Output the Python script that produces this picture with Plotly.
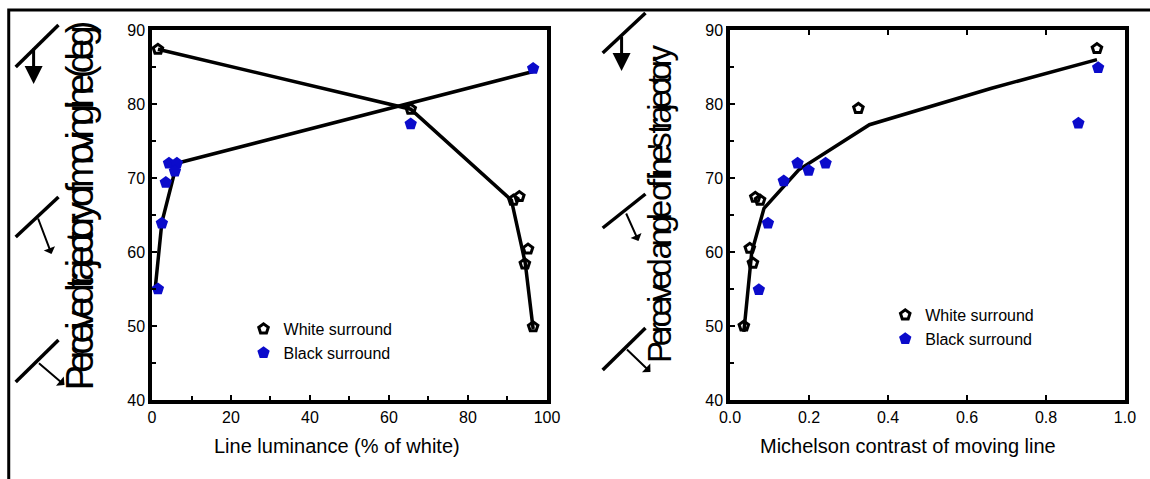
import plotly.graph_objects as go

# ---------------- data ----------------
# Left panel: line luminance (% of white) vs perceived trajectory (deg)
lum_white_x = [1.5, 65.5, 91.5, 93.0, 95.2, 94.4, 96.5]
lum_white_y = [87.4, 79.3, 67.0, 67.5, 60.4, 58.4, 49.9]
lum_white_fit_x = [1.5, 65.5, 91.0, 94.5, 96.5]
lum_white_fit_y = [87.4, 79.3, 67.0, 58.5, 49.6]

lum_black_x = [1.5, 2.5, 3.5, 4.3, 6.3, 5.8, 65.5, 96.5]
lum_black_y = [55.0, 63.9, 69.4, 72.0, 72.0, 70.9, 77.3, 84.8]
lum_black_fit_x = [0.8, 2.5, 6.3, 96.5]
lum_black_fit_y = [55.0, 64.0, 72.0, 84.4]

# Right panel: Michelson contrast vs perceived angle (deg)
mc_white_x = [0.035, 0.050, 0.058, 0.064, 0.076, 0.325, 0.929]
mc_white_y = [50.0, 60.5, 58.5, 67.4, 67.0, 79.4, 87.5]
mc_black_x = [0.073, 0.096, 0.136, 0.171, 0.199, 0.242, 0.882, 0.932]
mc_black_y = [54.9, 63.9, 69.6, 72.0, 71.0, 72.0, 77.4, 84.9]
mc_fit_x = [0.035, 0.055, 0.086, 0.174, 0.353, 0.66, 0.929]
mc_fit_y = [49.2, 60.0, 65.9, 71.1, 77.2, 82.1, 86.0]

lum_ticks = [0, 20, 40, 60, 80, 100]
mc_ticks = [0.0, 0.2, 0.4, 0.6, 0.8, 1.0]
mc_tick_text = ["0.0", "0.2", "0.4", "0.6", "0.8", "1.0"]
y_ticks = [40, 50, 60, 70, 80, 90]

series_names = ["White surround", "Black surround"]
x_titles = ["Line luminance (% of white)", "Michelson contrast of moving line"]
y_titles = ["Perceived trajectory of moving line (deg)", "Perceived angle of line's trajectory"]

# ---------------- layout helpers ----------------
W, H = 1150, 479
ML, MR, MT, MB = 152, 20, 30, 79
PW, PH = W - ML - MR, H - MT - MB


def px(x):
    return (x - ML) / PW


def py(y):
    return (H - MB - y) / PH


FONT = "Arial, Liberation Sans, sans-serif"
BLUE = "#0B0BCB"

fig = go.Figure()

# left panel
fig.add_trace(go.Scatter(x=lum_white_fit_x, y=lum_white_fit_y, mode="lines",
                         line=dict(color="black", width=3.5), showlegend=False,
                         xaxis="x", yaxis="y"))
fig.add_trace(go.Scatter(x=lum_black_fit_x, y=lum_black_fit_y, mode="lines",
                         line=dict(color="black", width=3.5), showlegend=False,
                         xaxis="x", yaxis="y"))
fig.add_trace(go.Scatter(x=lum_white_x, y=lum_white_y, mode="markers", name=series_names[0],
                         marker=dict(symbol="pentagon-open", size=10, color="black",
                                     line=dict(width=3, color="black")),
                         xaxis="x", yaxis="y", legend="legend"))
fig.add_trace(go.Scatter(x=lum_black_x, y=lum_black_y, mode="markers", name=series_names[1],
                         marker=dict(symbol="pentagon", size=13, color=BLUE, line=dict(width=0)),
                         xaxis="x", yaxis="y", legend="legend"))

# right panel
fig.add_trace(go.Scatter(x=mc_fit_x, y=mc_fit_y, mode="lines",
                         line=dict(color="black", width=3.5), showlegend=False,
                         xaxis="x2", yaxis="y2"))
fig.add_trace(go.Scatter(x=mc_white_x, y=mc_white_y, mode="markers", name=series_names[0],
                         marker=dict(symbol="pentagon-open", size=10, color="black",
                                     line=dict(width=3, color="black")),
                         xaxis="x2", yaxis="y2", legend="legend2"))
fig.add_trace(go.Scatter(x=mc_black_x, y=mc_black_y, mode="markers", name=series_names[1],
                         marker=dict(symbol="pentagon", size=13, color=BLUE, line=dict(width=0)),
                         xaxis="x2", yaxis="y2", legend="legend2"))

axis_common = dict(showline=True, linecolor="black", linewidth=3.5, showgrid=False,
                   zeroline=False, ticks="inside", ticklen=5, tickwidth=2, tickcolor="black",
                   tickfont=dict(family=FONT, size=16, color="black"))

fig.update_layout(
    width=W, height=H,
    margin=dict(l=ML, r=MR, t=MT, b=MB),
    paper_bgcolor="white", plot_bgcolor="white",
    font=dict(family=FONT, color="black"),
    xaxis=dict(domain=[0, (549 - ML) / PW], range=[0, 100], tickvals=lum_ticks,
               mirror=True, minor=dict(dtick=10, ticks="inside", ticklen=4, tickwidth=2,
                                       tickcolor="black"),
               anchor="y", **axis_common),
    yaxis=dict(domain=[0, 1], range=[40, 90], tickvals=y_ticks, mirror=True,
               minor=dict(dtick=5, ticks="inside", ticklen=4, tickwidth=2, tickcolor="black"),
               anchor="x", **axis_common),
    xaxis2=dict(domain=[(733 - ML) / PW, 1], range=[0, 1], tickvals=mc_ticks,
                ticktext=mc_tick_text, mirror="ticks", anchor="y2", **axis_common),
    yaxis2=dict(domain=[0, 1], range=[40, 90], tickvals=y_ticks, mirror=True,
                minor=dict(dtick=5, ticks="inside", ticklen=4, tickwidth=2, tickcolor="black"),
                anchor="x2", **axis_common),
    legend=dict(x=px(244), y=py(312), xanchor="left", yanchor="top",
                bgcolor="rgba(0,0,0,0)", font=dict(family=FONT, size=16, color="black"),
                itemwidth=30, tracegroupgap=0),
    legend2=dict(x=px(889), y=py(298), xanchor="left", yanchor="top",
                 bgcolor="rgba(0,0,0,0)", font=dict(family=FONT, size=16, color="black"),
                 itemwidth=30, tracegroupgap=0),
)

annotations = []
# axis titles
annotations.append(dict(text=x_titles[0], x=px(338), y=py(446), xref="paper", yref="paper",
                        xanchor="center", yanchor="middle",
                        showarrow=False, font=dict(family=FONT, size=20, color="black")))
annotations.append(dict(text=x_titles[1], x=px(912), y=py(446), xref="paper", yref="paper",
                        xanchor="center", yanchor="middle",
                        showarrow=False, font=dict(family=FONT, size=20, color="black")))
annotations.append(dict(text=y_titles[0], x=px(80), y=py(209), xref="paper", yref="paper",
                        xanchor="center", yanchor="middle",
                        showarrow=False, textangle=-90,
                        font=dict(family=FONT, size=38, color="black")))
annotations.append(dict(text=y_titles[1], x=px(662), y=py(206), xref="paper", yref="paper",
                        xanchor="center", yanchor="middle",
                        showarrow=False, textangle=-90,
                        font=dict(family=FONT, size=33, color="black")))

shapes = []
# outer frame
shapes.append(dict(type="rect", xref="paper", yref="paper", x0=px(8), y0=py(10),
                   x1=px(1170), y1=py(500), line=dict(color="black", width=3)))

# trajectory icons: (line start, line end, arrow tail, arrow head, head style, size, width)
icons = [
    ((15, 67), (58, 25), (33, 47), (33, 84), 2, 1.2, 3),
    ((15, 237), (58, 197), (37, 217), (51, 254), 1, 1.0, 2),
    ((15, 382), (58, 340), (37, 362), (64, 385), 1, 1.0, 2),
    ((605, 53), (648, 13), (624, 35), (624, 71), 2, 1.2, 3),
    ((605, 228), (648, 194), (628, 212), (641, 241), 1, 1.0, 2),
    ((605, 370), (648, 328), (628, 348), (653, 372), 1, 1.0, 2),
]
for (a, b, tail, head, style, size, w) in icons:
    shapes.append(dict(type="line", xref="paper", yref="paper",
                       x0=px(a[0]), y0=py(a[1]), x1=px(b[0]), y1=py(b[1]),
                       line=dict(color="black", width=3.5)))
    annotations.append(dict(x=px(head[0]), y=py(head[1]), xref="paper", yref="paper",
                            ax=tail[0] - head[0], ay=tail[1] - head[1], axref="pixel",
                            ayref="pixel", showarrow=True, arrowhead=style, arrowsize=size,
                            arrowwidth=w, arrowcolor="black", text=""))

fig.update_layout(annotations=annotations, shapes=shapes)

post = """
document.body.style.margin = '0';
document.body.style.overflow = 'hidden';
var gd = document.getElementById('{plot_id}');
var targets = {"Perceived trajectory of moving line (deg)": 362,
               "Perceived angle of line's trajectory": 313};
gd.querySelectorAll('text.annotation-text').forEach(function(t){
  var s = t.textContent;
  if (targets[s]) {
    var L = t.getComputedTextLength();
    var ls = (targets[s] - L) / s.length;
    t.setAttribute('letter-spacing', ls + 'px');
    t.style.letterSpacing = ls + 'px';
  }
});
"""

fig.write_html("out.html", post_script=post, config=dict(displayModeBar=False))
